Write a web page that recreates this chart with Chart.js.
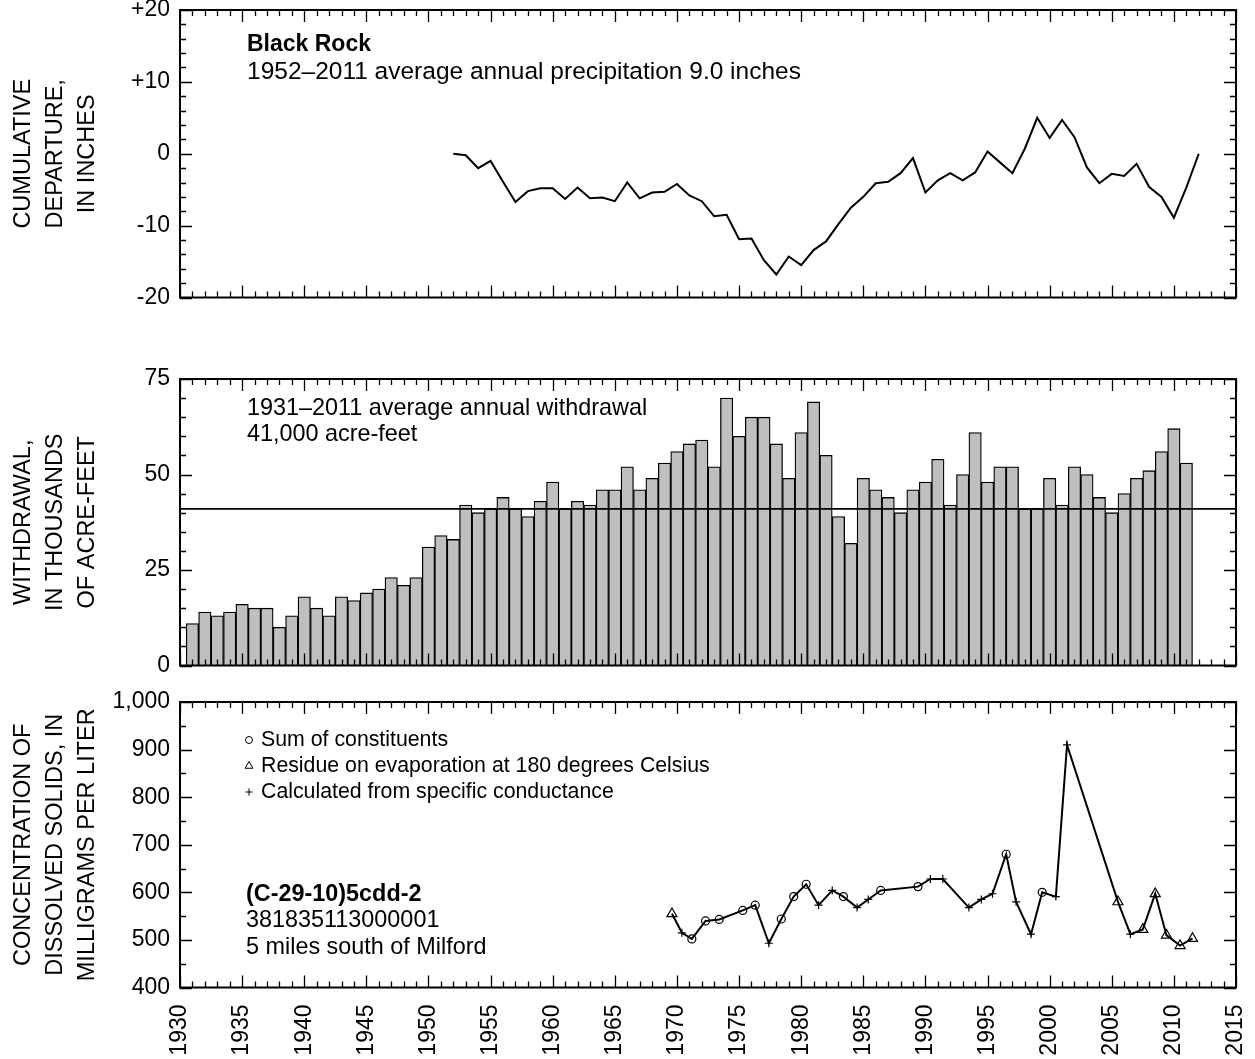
<!DOCTYPE html>
<html>
<head>
<meta charset="utf-8">
<title>Black Rock precipitation, withdrawal and dissolved solids</title>
<script src="https://cdn.jsdelivr.net/npm/chart.js@4/dist/chart.umd.min.js"></script>
<style>
  html, body { margin: 0; padding: 0; background: #fff; }
  #page { position: relative; width: 1255px; height: 1059px; }
  #page canvas { position: absolute; left: 0; top: 0; }
</style>
</head>
<body>
<div id="page">
  <canvas id="precip" width="1255" height="1059"></canvas>
  <canvas id="withdrawal" width="1255" height="1059"></canvas>
  <canvas id="solids" width="1255" height="1059"></canvas>
</div>
<script>
// ---------- data ----------
const precipStartYear = 1952;
const cumDeparture = [
  0.0, -0.2, -2.0, -1.0, -3.9, -6.7, -5.2, -4.8, -4.8, -6.3,
  -4.7, -6.2, -6.1, -6.6, -4.0, -6.2, -5.4, -5.3, -4.2, -5.8,
  -6.6, -8.7, -8.5, -11.9, -11.8, -14.8, -16.8, -14.3, -15.5, -13.4,
  -12.2, -9.8, -7.5, -6.0, -4.1, -3.9, -2.7, -0.6, -5.4, -3.7,
  -2.7, -3.7, -2.6, 0.3, -1.2, -2.7, 0.7, 5.0, 2.2, 4.7,
  2.3, -1.9, -4.1, -2.8, -3.1, -1.4, -4.6, -6.0, -8.9, -4.7,
  0.0
];

const withdrawalStartYear = 1931;
const withdrawalKAF = [
  11, 14, 13, 14, 16, 15, 15, 10, 13, 18,
  15, 13, 18, 17, 19, 20, 23, 21, 23, 31,
  34, 33, 42, 40, 41, 44, 41, 39, 43, 48,
  41, 43, 42, 46, 46, 52, 46, 49, 53, 56,
  58, 59, 52, 70, 60, 65, 65, 58, 49, 61,
  69, 55, 39, 32, 49, 46, 44, 40, 46, 48,
  54, 42, 50, 61, 48, 52, 52, 41, 41, 49,
  42, 52, 50, 44, 40, 45, 49, 51, 56, 62,
  53
];
const avgWithdrawalKAF = 41;

const sampleDates = [
  1969.6, 1970.4, 1971.2, 1972.3, 1973.4, 1975.3, 1976.3, 1977.4, 1978.4, 1979.4,
  1980.4, 1981.4, 1982.5, 1983.4, 1984.5, 1985.4, 1986.4, 1989.4, 1990.4, 1991.4,
  1993.5, 1994.5, 1995.4, 1996.5, 1997.3, 1998.5, 1999.4, 2000.5, 2001.4, 2005.5,
  2006.5, 2007.5, 2008.5, 2009.4, 2010.5, 2011.5
];
const solidsMgL = [
  555, 515, 502, 540, 543, 562, 573, 493, 544, 591,
  617, 573, 604, 591, 568, 585, 604, 612, 628, 628,
  568, 585, 597, 680, 580, 512, 600, 591, 910, 580,
  512, 522, 597, 510, 488, 503
];
// S = sum of constituents, R = residue on evaporation, C = from specific conductance
const solidsMethod = [
  'R', 'C', 'S', 'S', 'S', 'S', 'S', 'C', 'S', 'S',
  'S', 'C', 'C', 'S', 'C', 'C', 'S', 'S', 'C', 'C',
  'C', 'C', 'C', 'S', 'C', 'C', 'S', 'C', 'C', 'R',
  'C', 'R', 'R', 'R', 'R', 'R'
];

// tick values and labels
const yearLabels = [1930, 1935, 1940, 1945, 1950, 1955, 1960, 1965, 1970, 1975, 1980, 1985, 1990, 1995, 2000, 2005, 2010, 2015];
const departureTicks = [-20, -10, 0, 10, 20];
const withdrawalTicks = [0, 25, 50, 75];
const solidsTicks = [400, 500, 600, 700, 800, 900, 1000];

const range = (a, b, s) => { const r = []; for (let v = a; v <= b + 1e-9; v += s) r.push(v); return r; };

// ---------- layout ----------
const PAGE_W = 1255, PAGE_H = 1059;
const PLOT_LEFT = 180, PLOT_RIGHT = 1236;
const FONT = "'Liberation Sans', Arial, Helvetica, sans-serif";
const MAJOR_TICK = 12, MINOR_TICK = 6;
const NOTE_SIZE = 23.4;

Chart.defaults.font.family = FONT;
Chart.defaults.font.size = 23;
Chart.defaults.color = '#000';
Chart.defaults.animation = false;

// frame plus inward tick marks on all four sides
const frameTicks = {
  id: 'frameTicks',
  afterDatasetsDraw(chart, args, o) {
    const { ctx, chartArea: a } = chart;
    const xs = chart.scales.x, ys = chart.scales.y;
    ctx.save();
    ctx.strokeStyle = '#000';
    ctx.lineWidth = 1.3;
    ctx.beginPath();
    o.xMinor.forEach(v => {
      const len = o.xMajor.includes(v) ? MAJOR_TICK : MINOR_TICK;
      const px = Math.round(xs.getPixelForValue(v)) + 0.5;
      ctx.moveTo(px, a.bottom); ctx.lineTo(px, a.bottom - len);
      ctx.moveTo(px, a.top); ctx.lineTo(px, a.top + len);
    });
    o.yMinor.forEach(v => {
      const len = o.yMajor.includes(v) ? MAJOR_TICK : MINOR_TICK;
      const py = Math.round(ys.getPixelForValue(v)) + 0.5;
      ctx.moveTo(a.left, py); ctx.lineTo(a.left + len, py);
      ctx.moveTo(a.right, py); ctx.lineTo(a.right - len, py);
    });
    ctx.stroke();
    ctx.lineWidth = 2;
    ctx.strokeRect(a.left, a.top, a.right - a.left, a.bottom - a.top);
    ctx.restore();
  }
};

// text blocks inside the plot areas
const notes = {
  id: 'notes',
  afterDraw(chart, args, o) {
    const ctx = chart.ctx;
    ctx.save();
    ctx.textBaseline = 'middle';
    ctx.textAlign = 'left';
    (o.lines || []).forEach(l => {
      ctx.fillStyle = '#000';
      ctx.font = (l.bold ? 'bold ' : '') + (l.size || NOTE_SIZE) + 'px ' + FONT;
      ctx.fillText(l.text, l.x, l.y);
    });
    (o.keys || []).forEach(k => {
      ctx.fillStyle = 'rgba(0,0,0,0)';
      ctx.strokeStyle = '#000';
      ctx.lineWidth = 1;
      Chart.helpers.drawPoint(ctx, { pointStyle: k.style, radius: k.r, borderWidth: 1 }, k.x, k.y);
      ctx.fillStyle = '#000';
      ctx.font = (k.size || 21.3) + 'px ' + FONT;
      ctx.fillText(k.text, k.tx, k.y);
    });
    ctx.restore();
  }
};

function yAxis(min, max, ticks, fmt, title) {
  return {
    type: 'linear', position: 'left', min, max,
    afterBuildTicks: ax => { ax.ticks = ticks.map(v => ({ value: v })); },
    ticks: { callback: fmt, padding: 10, color: '#000', font: { size: 23 } },
    grid: { display: false, drawTicks: false },
    border: { display: false },
    title: { display: true, text: title, color: '#000', font: { size: 23.5, lineHeight: 1.36 }, padding: { top: 8, bottom: 0 } },
    afterFit: ax => { ax.width = PLOT_LEFT; ax.paddingTop = 0; ax.paddingBottom = 0; }
  };
}

function hiddenX() {
  return {
    type: 'linear', min: 1930, max: 2015, display: false, offset: false,
    grid: { offset: false },
    afterFit: ax => { ax.paddingLeft = 0; ax.paddingRight = 0; }
  };
}

function pad(top, bottom) {
  return { top, bottom: PAGE_H - bottom, left: 0, right: PAGE_W - PLOT_RIGHT };
}

const yearMinor = range(1930, 2015, 1);

// ---------- cumulative departure from average precipitation ----------
new Chart(document.getElementById('precip'), {
  type: 'line',
  data: {
    datasets: [{
      data: cumDeparture.map((v, i) => ({ x: precipStartYear + i, y: v })),
      borderColor: '#000', borderWidth: 2, pointRadius: 0, tension: 0, fill: false
    }]
  },
  options: {
    responsive: false,
    layout: { padding: pad(10, 297.5) },
    scales: {
      x: hiddenX(),
      y: yAxis(-20, 20, departureTicks, v => (v > 0 ? '+' + v : String(v)),
        ['CUMULATIVE', 'DEPARTURE,', 'IN INCHES'])
    },
    plugins: {
      legend: { display: false }, tooltip: { enabled: false },
      frameTicks: { xMinor: yearMinor, xMajor: yearLabels, yMinor: range(-20, 20, 2), yMajor: departureTicks },
      notes: {
        lines: [
          { text: 'Black Rock', x: 247, y: 45, bold: true, size: 23 },
          { text: '1952\u20132011 average annual precipitation 9.0 inches', x: 247, y: 72, size: 24.5 }
        ]
      }
    }
  },
  plugins: [frameTicks, notes]
});

// ---------- annual groundwater withdrawal ----------
new Chart(document.getElementById('withdrawal'), {
  type: 'bar',
  data: {
    datasets: [
      {
        type: 'line', order: 0,
        data: [{ x: 1930, y: avgWithdrawalKAF }, { x: 2015, y: avgWithdrawalKAF }],
        borderColor: '#000', borderWidth: 1.6, pointRadius: 0
      },
      {
        type: 'bar', order: 1,
        data: withdrawalKAF.map((v, i) => ({ x: withdrawalStartYear + i, y: v })),
        backgroundColor: '#bebfc1', borderColor: '#000', borderWidth: 1.3,
        barPercentage: 1, categoryPercentage: 1
      }
    ]
  },
  options: {
    responsive: false,
    layout: { padding: pad(379, 665.5) },
    scales: {
      x: hiddenX(),
      y: yAxis(0, 75, withdrawalTicks, v => String(v),
        ['WITHDRAWAL,', 'IN THOUSANDS', 'OF ACRE-FEET'])
    },
    plugins: {
      legend: { display: false }, tooltip: { enabled: false },
      frameTicks: { xMinor: yearMinor, xMajor: yearLabels, yMinor: range(0, 75, 5), yMajor: withdrawalTicks },
      notes: {
        lines: [
          { text: '1931\u20132011 average annual withdrawal', x: 247, y: 409 },
          { text: '41,000 acre-feet', x: 247, y: 435 }
        ]
      }
    }
  },
  plugins: [frameTicks, notes]
});

// ---------- dissolved solids in well water ----------
const methodStyle = { S: 'circle', R: 'triangle', C: 'cross' };
const methodRadius = { S: 4, R: 5.8, C: 4 };

new Chart(document.getElementById('solids'), {
  type: 'line',
  data: {
    datasets: [{
      data: sampleDates.map((d, i) => ({ x: d, y: solidsMgL[i] })),
      borderColor: '#000', borderWidth: 2, tension: 0, fill: false,
      pointStyle: solidsMethod.map(m => methodStyle[m]),
      pointRadius: solidsMethod.map(m => methodRadius[m]),
      pointBorderColor: '#000', pointBorderWidth: 1.2,
      pointBackgroundColor: 'rgba(0,0,0,0)'
    }]
  },
  options: {
    responsive: false,
    layout: { padding: { top: 702, bottom: 0, left: 0, right: PAGE_W - PLOT_RIGHT } },
    scales: {
      x: {
        type: 'linear', position: 'bottom', min: 1930, max: 2015,
        afterBuildTicks: ax => { ax.ticks = yearLabels.map(v => ({ value: v })); },
        ticks: { minRotation: 90, maxRotation: 90, autoSkip: false, padding: 17, color: '#000', font: { size: 23 }, callback: v => String(v) },
        grid: { display: false, drawTicks: false },
        border: { display: false },
        afterFit: ax => { ax.height = PAGE_H - 987.5; ax.paddingLeft = 0; ax.paddingRight = 0; }
      },
      y: yAxis(400, 1000, solidsTicks, v => v.toLocaleString('en-US'),
        ['CONCENTRATION OF', 'DISSOLVED SOLIDS, IN', 'MILLIGRAMS PER LITER'])
    },
    plugins: {
      legend: { display: false }, tooltip: { enabled: false },
      frameTicks: { xMinor: yearMinor, xMajor: yearLabels, yMinor: range(400, 1000, 50), yMajor: solidsTicks },
      notes: {
        keys: [
          { style: 'circle', r: 3.5, x: 249, tx: 261, y: 740, text: 'Sum of constituents' },
          { style: 'triangle', r: 4.5, x: 249, tx: 261, y: 766, text: 'Residue on evaporation at 180 degrees Celsius' },
          { style: 'cross', r: 3.5, x: 249, tx: 261, y: 792, text: 'Calculated from specific conductance' }
        ],
        lines: [
          { text: '(C-29-10)5cdd-2', x: 246, y: 895, bold: true },
          { text: '381835113000001', x: 246, y: 921 },
          { text: '5 miles south of Milford', x: 246, y: 948 }
        ]
      }
    }
  },
  plugins: [frameTicks, notes]
});
</script>
</body>
</html>
